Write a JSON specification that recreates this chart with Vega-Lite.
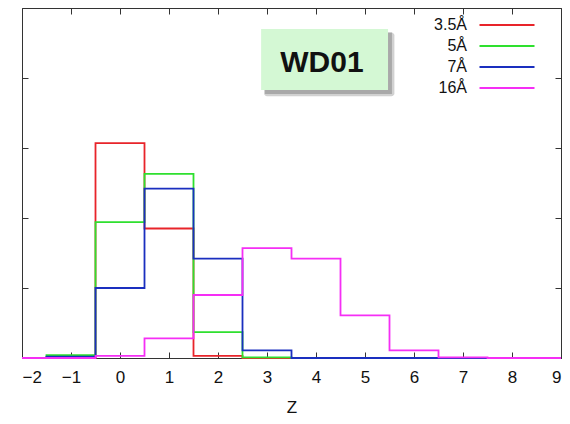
{
  "$schema": "https://vega.github.io/schema/vega-lite/v6.json",
  "width": 539,
  "height": 350,
  "autosize": {"type": "none"},
  "padding": {"left": 22, "top": 8, "right": 9, "bottom": 66},
  "config": {
    "view": {"stroke": "#333", "strokeWidth": 1},
    "font": "Liberation Sans"
  },
  "resolve": {"axis": {"x": "independent", "y": "independent"}},
  "layer": [
    {
      "data": {"values": [
        {"series": "3.5Å", "z": -2, "value": 0}, {"series": "3.5Å", "z": -1, "value": 0.001}, {"series": "3.5Å", "z": 0, "value": 0.307}, {"series": "3.5Å", "z": 1, "value": 0.185}, {"series": "3.5Å", "z": 2, "value": 0.003}, {"series": "3.5Å", "z": 3, "value": 0}, {"series": "3.5Å", "z": 4, "value": 0}, {"series": "3.5Å", "z": 5, "value": 0}, {"series": "3.5Å", "z": 6, "value": 0}, {"series": "3.5Å", "z": 7, "value": 0}, {"series": "3.5Å", "z": 8, "value": 0}, {"series": "3.5Å", "z": 9, "value": 0},
        {"series": "5Å", "z": -2, "value": 0}, {"series": "5Å", "z": -1, "value": 0.004}, {"series": "5Å", "z": 0, "value": 0.194}, {"series": "5Å", "z": 1, "value": 0.263}, {"series": "5Å", "z": 2, "value": 0.037}, {"series": "5Å", "z": 3, "value": 0.001}, {"series": "5Å", "z": 4, "value": 0}, {"series": "5Å", "z": 5, "value": 0}, {"series": "5Å", "z": 6, "value": 0}, {"series": "5Å", "z": 7, "value": 0}, {"series": "5Å", "z": 8, "value": 0}, {"series": "5Å", "z": 9, "value": 0},
        {"series": "7Å", "z": -2, "value": 0}, {"series": "7Å", "z": -1, "value": 0.002}, {"series": "7Å", "z": 0, "value": 0.1}, {"series": "7Å", "z": 1, "value": 0.242}, {"series": "7Å", "z": 2, "value": 0.142}, {"series": "7Å", "z": 3, "value": 0.011}, {"series": "7Å", "z": 4, "value": 0}, {"series": "7Å", "z": 5, "value": 0}, {"series": "7Å", "z": 6, "value": 0}, {"series": "7Å", "z": 7, "value": 0}, {"series": "7Å", "z": 8, "value": 0}, {"series": "7Å", "z": 9, "value": 0},
        {"series": "16Å", "z": -2, "value": 0}, {"series": "16Å", "z": -1, "value": 0}, {"series": "16Å", "z": 0, "value": 0.003}, {"series": "16Å", "z": 1, "value": 0.028}, {"series": "16Å", "z": 2, "value": 0.09}, {"series": "16Å", "z": 3, "value": 0.157}, {"series": "16Å", "z": 4, "value": 0.142}, {"series": "16Å", "z": 5, "value": 0.061}, {"series": "16Å", "z": 6, "value": 0.011}, {"series": "16Å", "z": 7, "value": 0.001}, {"series": "16Å", "z": 8, "value": 0}, {"series": "16Å", "z": 9, "value": 0}
      ]},
      "mark": {"type": "line", "interpolate": "step", "strokeWidth": 1.8},
      "encoding": {
        "x": {
          "field": "z", "type": "quantitative",
          "scale": {"domain": [-2, 9], "nice": false, "zero": false},
          "axis": {"orient": "bottom", "values": [-2, -1, 0, 1, 2, 3, 4, 5, 6, 7, 8, 9], "title": "Z", "titleFontSize": 17, "titleFontWeight": "normal", "titleColor": "#111", "titlePadding": 14, "labelFontSize": 17, "labelColor": "#111", "tickSize": -6, "tickColor": "#333", "domainColor": "#333", "labelPadding": 17, "grid": false}
        },
        "y": {
          "field": "value", "type": "quantitative",
          "scale": {"domain": [0, 0.5], "nice": false},
          "axis": {"orient": "left", "values": [0.1, 0.2, 0.3, 0.4], "labels": false, "title": null, "tickSize": -6, "tickColor": "#333", "domainColor": "#333", "grid": false}
        },
        "color": {
          "field": "series", "type": "nominal",
          "scale": {"domain": ["3.5Å", "5Å", "7Å", "16Å"], "range": ["#e8242a", "#2ee02e", "#1a2fbf", "#f52ef5"]},
          "legend": {"orient": "none", "legendX": 477, "legendY": 9, "padding": 0, "title": null, "symbolType": "M-5,0H5", "symbolSize": 121, "symbolStrokeWidth": 1.8, "labelAlign": "right", "labelOffset": -48, "labelFontSize": 16, "labelColor": "#111", "rowPadding": 5}
        }
      }
    },
    {
      "data": {"values": [{}]},
      "mark": {"type": "rect", "fill": "#666666", "opacity": 0.3, "cornerRadius": 3},
      "encoding": {
        "x": {"datum": 2.94, "type": "quantitative", "axis": {"orient": "top", "values": [-1, 0, 1, 2, 3, 4, 5, 6, 7, 8], "labels": false, "title": null, "tickSize": -6, "tickColor": "#333", "domainColor": "#333", "grid": false}},
        "x2": {"datum": 5.6},
        "y": {"datum": 0.465, "type": "quantitative", "axis": {"orient": "right", "values": [0.1, 0.2, 0.3, 0.4], "labels": false, "title": null, "tickSize": -6, "tickColor": "#333", "domainColor": "#333", "grid": false}},
        "y2": {"datum": 0.374}
      }
    },
    {
      "data": {"values": [{}]},
      "mark": {"type": "rect", "fill": "#777777", "opacity": 0.45},
      "encoding": {
        "x": {"datum": 2.96, "type": "quantitative", "axis": null},
        "x2": {"datum": 5.55},
        "y": {"datum": 0.465, "type": "quantitative", "axis": null},
        "y2": {"datum": 0.377}
      }
    },
    {
      "data": {"values": [{}]},
      "mark": {"type": "rect", "fill": "#d4f8d4"},
      "encoding": {
        "x": {"datum": 2.88, "type": "quantitative", "axis": null},
        "x2": {"datum": 5.47},
        "y": {"datum": 0.47, "type": "quantitative", "axis": null},
        "y2": {"datum": 0.383}
      }
    },
    {
      "data": {"values": [{"label": "WD01"}]},
      "mark": {"type": "text", "fontSize": 30, "fontWeight": "bold", "color": "#111", "align": "center", "baseline": "middle"},
      "encoding": {
        "x": {"datum": 4.122, "type": "quantitative", "axis": null},
        "y": {"datum": 0.421, "type": "quantitative", "axis": null},
        "text": {"field": "label"}
      }
    }
  ]
}
